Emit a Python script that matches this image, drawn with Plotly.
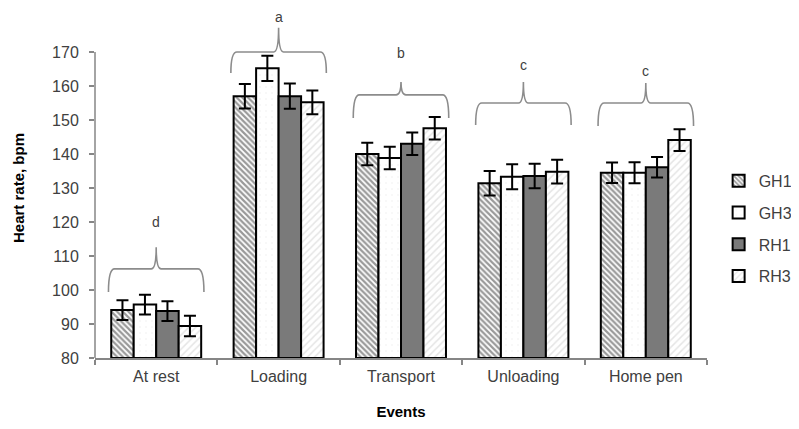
import plotly.graph_objects as go

categories = ["At rest", "Loading", "Transport", "Unloading", "Home pen"]
series_names = ["GH1", "GH3", "RH1", "RH3"]
gh1 = [94.1, 157.0, 140.0, 131.4, 134.5]
gh3 = [95.7, 165.2, 138.8, 133.3, 134.5]
rh1 = [93.8, 157.0, 143.0, 133.5, 136.1]
rh3 = [89.4, 155.2, 147.6, 134.8, 144.1]
gh1_err = [2.9, 3.6, 3.3, 3.6, 3.0]
gh3_err = [2.9, 3.7, 3.3, 3.7, 3.1]
rh1_err = [2.9, 3.7, 3.3, 3.6, 3.0]
rh3_err = [3.0, 3.5, 3.3, 3.5, 3.2]
sig_letters = ["d", "a", "b", "c", "c"]
brace_end = [99.4, 163.8, 150.6, 148.5, 148.2]
brace_line = [106.2, 170.0, 157.4, 155.0, 155.0]
brace_tip = [112.6, 177.1, 161.2, 161.2, 160.9]
letter_y = [120.0, 182.4, 169.7, 166.2, 164.4]
y_ticks = [80, 90, 100, 110, 120, 130, 140, 150, 160, 170]

Y_MIN, Y_MAX = 80, 180
MARGIN_T, MARGIN_B = 10, 79
PLOT_H = 429 - MARGIN_T - MARGIN_B

values = [gh1, gh3, rh1, rh3]
errors = [gh1_err, gh3_err, rh1_err, rh3_err]
patterns = [
    dict(shape="\\", fgcolor="#333333", bgcolor="#ffffff", size=4, solidity=0.55),
    dict(shape=".", fgcolor="#eeeeee", bgcolor="#ffffff", size=6, solidity=0.1),
    dict(shape="", fgcolor="#7a7a7a", bgcolor="#7a7a7a"),
    dict(shape="/", fgcolor="#cccccc", bgcolor="#ffffff", size=5, solidity=0.3),
]
colors = ["#ffffff", "#ffffff", "#7a7a7a", "#ffffff"]

xs = list(range(len(categories)))
fig = go.Figure()
for i, name in enumerate(series_names):
    fig.add_trace(go.Bar(
        x=xs, y=[v - Y_MIN for v in values[i]], base=Y_MIN, name=name,
        marker=dict(color=colors[i], line=dict(color="#000000", width=2),
                    pattern=patterns[i]),
        error_y=dict(type="data", array=errors[i], color="#000000",
                     thickness=2, width=6),
        legendgroup=name,
    ))

font_fam = "Liberation Sans, Arial, sans-serif"
shapes = []
hw = 0.39
for i, c in enumerate(xs):
    x0, x1 = c - hw, c + hw
    ye, yh, yt = brace_end[i], brace_line[i], brace_tip[i]
    path = (f"M {x0},{ye} Q {x0},{yh} {x0+0.05},{yh} L {c-0.04},{yh} "
            f"Q {c},{yh} {c},{yt} Q {c},{yh} {c+0.04},{yh} "
            f"L {x1-0.05},{yh} Q {x1},{yh} {x1},{ye}")
    shapes.append(dict(type="path", path=path, xref="x", yref="y",
                       line=dict(color="#8c8c8c", width=1.6)))
# y axis line only up to the top tick
shapes.append(dict(type="line", xref="paper", yref="y", x0=0, x1=0,
                   y0=y_ticks[0], y1=y_ticks[-1],
                   line=dict(color="#868686", width=1.5)))

# keep letter boxes inside the figure (half box height ~9px below figure top)
y_limit = 1 + (MARGIN_T - 9) / PLOT_H
annotations = [dict(x=xs[i], y=min((letter_y[i] - Y_MIN) / (Y_MAX - Y_MIN), y_limit),
                    xref="x", yref="paper", yanchor="middle", xanchor="center",
                    text=sig_letters[i], showarrow=False,
                    font=dict(family=font_fam, size=14, color="#404040"))
               for i in range(len(categories))]

fig.update_layout(
    width=799, height=429,
    margin=dict(l=87, r=91, t=MARGIN_T, b=MARGIN_B),
    paper_bgcolor="white", plot_bgcolor="white",
    barmode="group", bargap=0.265, bargroupgap=0,
    font=dict(family=font_fam, color="#404040"),
    shapes=shapes, annotations=annotations,
    legend=dict(x=1.019, xanchor="left", y=0.38, yanchor="middle",
                font=dict(size=16, color="#404040"), tracegroupgap=8,
                itemwidth=30),
    xaxis=dict(range=[-0.5, 4.5], tickvals=xs, ticktext=categories,
               ticks="", showline=True, linecolor="#868686", linewidth=1.5,
               showgrid=False, zeroline=False, ticklabelstandoff=3,
               tickfont=dict(size=16, color="#404040"),
               minor=dict(tickmode="array", tickvals=[x - 0.5 for x in xs] + [4.5],
                          ticks="outside", ticklen=5, tickcolor="#868686", tickwidth=1.5),
               title=dict(text="<b>Events</b>", font=dict(size=15, color="#000000"),
                          standoff=23)),
    yaxis=dict(range=[Y_MIN, Y_MAX], tickvals=y_ticks, ticks="outside", ticklen=5,
               tickcolor="#868686", tickwidth=1.5, showline=False,
               showgrid=False, zeroline=False, ticklabelstandoff=7,
               tickfont=dict(size=16, color="#404040"),
               title=dict(text="<b>Heart rate, bpm</b>", font=dict(size=15, color="#000000"),
                          standoff=23)),
)

fig.write_html("out.html")
